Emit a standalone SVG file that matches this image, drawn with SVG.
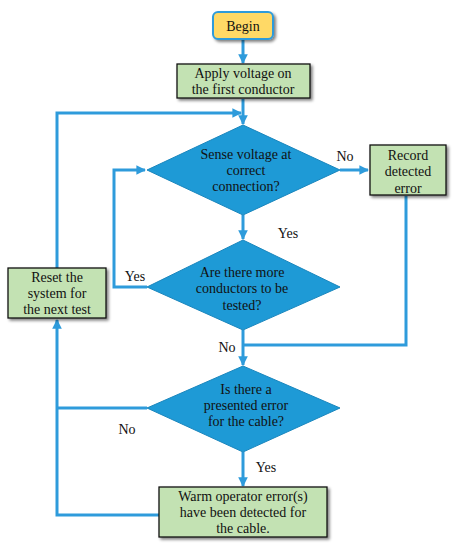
<svg xmlns="http://www.w3.org/2000/svg" width="456" height="550" viewBox="0 0 456 550">
<defs>
<style>
.box{fill:#C3E2B3;stroke:#111;stroke-width:1.3;filter:url(#sh)}
.dia{fill:#1E9AD6;stroke:#1A86BD;stroke-width:1}
text{font-size:14px;fill:#111;text-anchor:middle}
.c{fill:none;stroke:#2E9BDB;stroke-width:3}
</style>
<filter id="sh" x="-10%" y="-10%" width="130%" height="140%">
<feGaussianBlur in="SourceAlpha" stdDeviation="1.5"/>
<feOffset dx="2" dy="2" result="b"/>
<feComponentTransfer><feFuncA type="linear" slope="0.5"/></feComponentTransfer>
<feMerge><feMergeNode/><feMergeNode in="SourceGraphic"/></feMerge>
</filter>
<marker id="ar" viewBox="0 0 10 10" refX="9" refY="5" markerWidth="3.2" markerHeight="3.2" orient="auto" markerUnits="strokeWidth">
<path d="M0,0 L10,5 L0,10 z" fill="#2E9BDB"/>
</marker>
</defs>
<rect width="456" height="550" fill="#fff"/>
<g id="connectors">
<line class="c" x1="243" y1="40" x2="243" y2="63" marker-end="url(#ar)"/>
<line class="c" x1="243" y1="99" x2="243" y2="124" marker-end="url(#ar)"/>
<polyline class="c" points="57,268 57,113 241,113" marker-end="url(#ar)"/>
<line class="c" x1="340" y1="170" x2="368" y2="170" marker-end="url(#ar)"/>
<polyline class="c" points="406,196 406,345 243,345"/>
<line class="c" x1="243" y1="215" x2="243" y2="239" marker-end="url(#ar)"/>
<polyline class="c" points="147,287 114,287 114,170 145,170" marker-end="url(#ar)"/>
<line class="c" x1="243" y1="330" x2="243" y2="365" marker-end="url(#ar)"/>
<line class="c" x1="243" y1="452" x2="243" y2="486" marker-end="url(#ar)"/>
<polyline class="c" points="147,408 57,408"/>
<polyline class="c" points="159,515 57,515 57,320" marker-end="url(#ar)"/>
</g>
<g font-family="Liberation Serif, Times New Roman, serif">
<g id="labels">
<text x="345" y="161">No</text>
<text x="288" y="238">Yes</text>
<text x="135" y="281">Yes</text>
<text x="227" y="352">No</text>
<text x="127" y="434">No</text>
<text x="266" y="472">Yes</text>
</g>
<g id="begin">
<rect x="213" y="12" width="60" height="27" rx="5" fill="#FFD966" stroke="#2E9BDB" stroke-width="2" filter="url(#sh)"/>
<text x="243" y="31">Begin</text>
</g>
<g id="apply">
<rect class="box" x="177" y="64" width="133" height="34"/>
<text x="243" y="78">Apply voltage on</text>
<text x="243" y="94">the first conductor</text>
</g>
<g id="sense">
<polygon class="dia" points="243,125 340,170 243,215 147,170"/>
<text x="246" y="159">Sense voltage at</text>
<text x="246" y="175">correct</text>
<text x="246" y="191">connection?</text>
</g>
<g id="record">
<rect class="box" x="370" y="145" width="76" height="50"/>
<text x="408" y="160">Record</text>
<text x="408" y="176">detected</text>
<text x="408" y="193">error</text>
</g>
<g id="more">
<polygon class="dia" points="243,240 340,287 243,330 147,287"/>
<text x="242" y="277">Are there more</text>
<text x="242" y="293">conductors to be</text>
<text x="242" y="310">tested?</text>
</g>
<g id="reset">
<rect class="box" x="8" y="268" width="98" height="50"/>
<text x="57" y="282">Reset the</text>
<text x="57" y="298">system for</text>
<text x="57" y="314">the next test</text>
</g>
<g id="error">
<polygon class="dia" points="243,366 340,408 243,452 147,408"/>
<text x="246" y="394">Is there a</text>
<text x="246" y="410">presented error</text>
<text x="246" y="426">for the cable?</text>
</g>
<g id="warn">
<rect class="box" x="159" y="487" width="168" height="50"/>
<text x="243" y="501">Warm operator error(s)</text>
<text x="243" y="517">have been detected for</text>
<text x="243" y="533">the cable.</text>
</g>
</g>
</svg>
